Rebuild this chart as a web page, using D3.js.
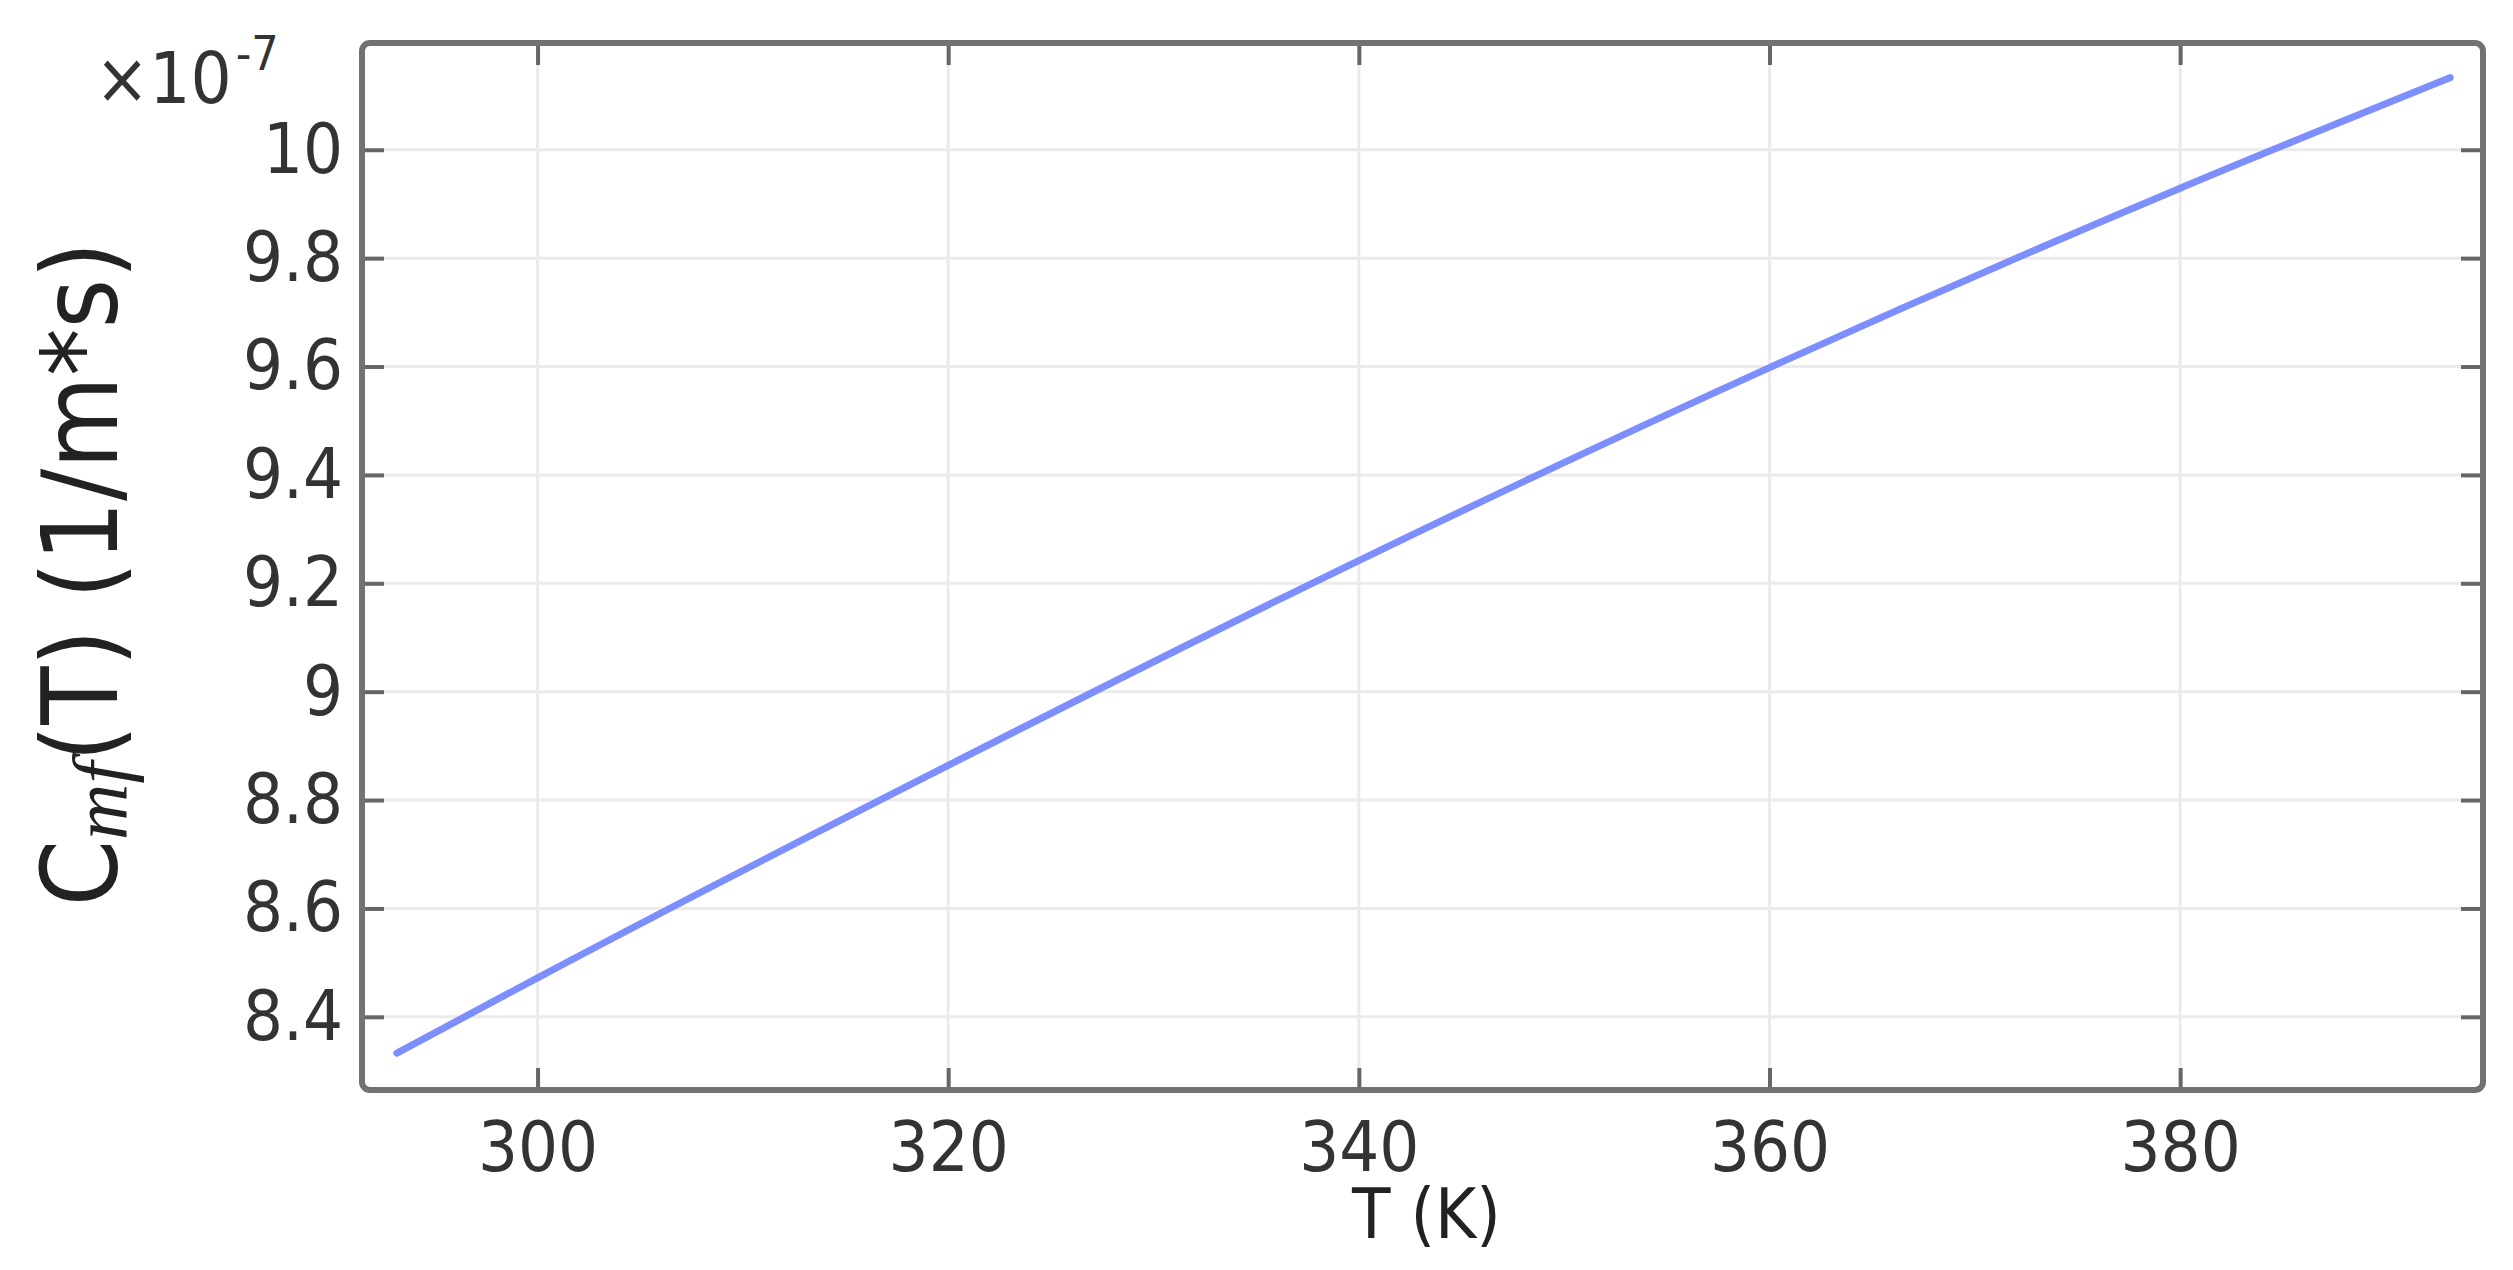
<!DOCTYPE html>
<html>
<head>
<meta charset="utf-8">
<script src="https://cdn.jsdelivr.net/npm/d3@7"></script>
<style>
  body { margin: 0; background: #fff; }
  svg { display: block; }
</style>
</head>
<body>
<svg width="2513" height="1270"></svg>
<script>
const width = 2513, height = 1270;

// temperature (K) and C_mf(T) in units of 1e-7 (1/m*s)
const temps = [293.15, 300, 320, 340, 360, 380, 393.15];
const cmf = [8.333, 8.472, 8.864, 9.242, 9.598, 9.929, 10.133];

const xTicks = [300, 320, 340, 360, 380];
const yTicks = [8.4, 8.6, 8.8, 9, 9.2, 9.4, 9.6, 9.8, 10];
const yTickLabels = ["8.4", "8.6", "8.8", "9", "9.2", "9.4", "9.6", "9.8", "10"];

const plot = { left: 362, right: 2483, top: 43, bottom: 1090 };
const font = '"DejaVu Sans Condensed", "DejaVu Sans", sans-serif';

const svg = d3.select("svg");

const x = d3.scaleLinear().domain([291.45, 394.75]).range([plot.left, plot.right]);
const y = d3.scaleLinear().domain([8.265, 10.197]).range([plot.bottom, plot.top]);

// grid lines
svg.append("g")
    .selectAll("line")
    .data(xTicks)
    .enter().append("line")
    .attr("x1", d => x(d)).attr("x2", d => x(d))
    .attr("y1", plot.top).attr("y2", plot.bottom)
    .style("stroke", "#ebebeb")
    .style("stroke-width", 3);

svg.append("g")
    .selectAll("line")
    .data(yTicks)
    .enter().append("line")
    .attr("x1", plot.left).attr("x2", plot.right)
    .attr("y1", d => y(d)).attr("y2", d => y(d))
    .style("stroke", "#ebebeb")
    .style("stroke-width", 3);

// the curve
const line = d3.line()
    .x((d, i) => x(temps[i]))
    .y(d => y(d))
    .curve(d3.curveMonotoneX);

svg.append("path")
    .datum(cmf)
    .attr("d", line)
    .style("fill", "none")
    .style("stroke", "#7d8eff")
    .style("stroke-width", 7)
    .style("stroke-linecap", "round");

// axes with inward ticks
function styleAxis(g) {
    g.select(".domain").remove();
    g.selectAll(".tick line").style("stroke", "#666").style("stroke-width", 4);
    g.selectAll(".tick text")
        .style("font-family", font)
        .style("font-size", "70px")
        .style("fill", "#333");
}

svg.append("g")
    .attr("transform", `translate(0,${plot.bottom})`)
    .call(d3.axisBottom(x).tickValues(xTicks).tickSize(-22).tickPadding(31).tickFormat(d3.format("d")))
    .call(styleAxis);

svg.append("g")
    .attr("transform", `translate(0,${plot.top})`)
    .call(d3.axisTop(x).tickValues(xTicks).tickSize(-22).tickFormat(""))
    .call(styleAxis);

svg.append("g")
    .attr("transform", `translate(${plot.left},0)`)
    .call(d3.axisLeft(y).tickValues(yTicks).tickSize(-22).tickPadding(19)
        .tickFormat((d, i) => yTickLabels[i]))
    .call(styleAxis);

svg.append("g")
    .attr("transform", `translate(${plot.right},0)`)
    .call(d3.axisRight(y).tickValues(yTicks).tickSize(-22).tickFormat(""))
    .call(styleAxis);

// frame
svg.append("rect")
    .attr("x", plot.left).attr("y", plot.top)
    .attr("width", plot.right - plot.left)
    .attr("height", plot.bottom - plot.top)
    .attr("rx", 8)
    .style("fill", "none")
    .style("stroke", "#727272")
    .style("stroke-width", 6);

// exponent label
const expo = svg.append("text")
    .attr("x", 95).attr("y", 103)
    .style("font-family", font)
    .style("font-size", "72px")
    .style("fill", "#333");
expo.append("tspan").text("×10");
expo.append("tspan").attr("dx", 4).attr("dy", -33).style("font-size", "48px").text("-7");

// x axis label
svg.append("text")
    .attr("x", (plot.left + plot.right) / 2 + 4)
    .attr("y", 1238)
    .attr("text-anchor", "middle")
    .style("font-family", font)
    .style("font-size", "70px")
    .style("fill", "#222")
    .text("T (K)");

// y axis label
const ylab = svg.append("text")
    .attr("transform", "translate(117,574) rotate(-90)")
    .attr("text-anchor", "middle")
    .style("font-family", font)
    .style("font-size", "106px")
    .style("fill", "#222");
ylab.append("tspan").text("C");
ylab.append("tspan")
    .attr("dy", 10)
    .style("font-family", '"Liberation Serif", serif')
    .style("font-style", "italic")
    .style("font-size", "78px")
    .text("mf");
ylab.append("tspan").attr("dy", -10).text("(T) (1/m*s)");
</script>
</body>
</html>
